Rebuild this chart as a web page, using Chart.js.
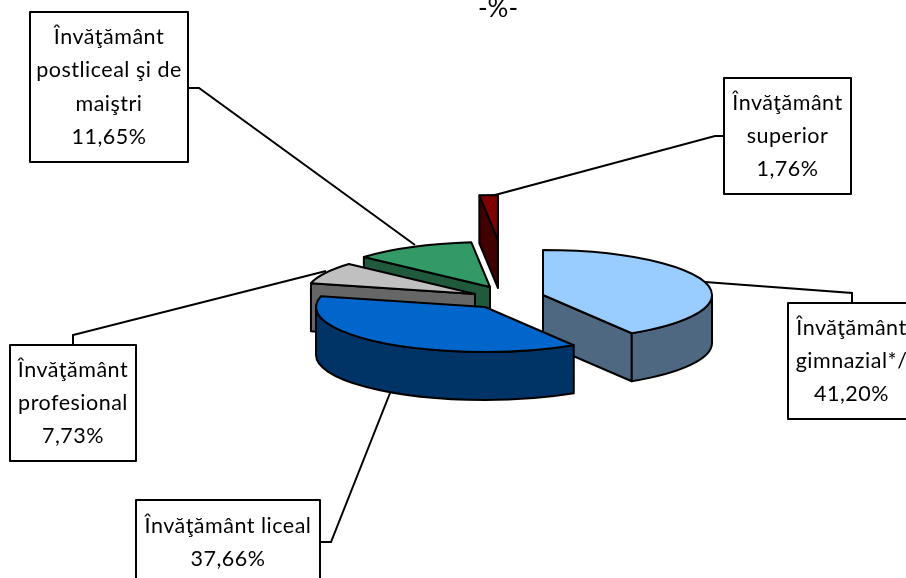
<!DOCTYPE html>
<html lang="ro">
<head>
    <meta charset="UTF-8">
    <title>Pie 3D</title>
    <script src="https://cdn.jsdelivr.net/npm/chart.js"></script>
    <style>
        html, body { margin: 0; padding: 0; background: white; overflow: hidden; }
        canvas { display: block; }
    </style>
</head>
<body>
    <canvas id="chart" width="906" height="578"></canvas>

    <script>
        const categories = [
            ["Învăţământ", "gimnazial*/"],
            ["Învăţământ liceal"],
            ["Învăţământ", "profesional"],
            ["Învăţământ", "postliceal şi de", "maiştri"],
            ["Învăţământ", "superior"]
        ];
        const shares = [41.20, 37.66, 7.73, 11.65, 1.76];
        const titleText = "-%-";

        const topColors = ["#99CCFF", "#0066CC", "#C0C0C0", "#339966", "#800000"];
        const sideColors = ["#4F6881", "#003366", "#666666", "#1F5A3D", "#400000"];

        // how far each slice is pulled out of the pie, in pixels
        const pullX = [43, -15, -25, -10, -2];
        const pullY = [-2, 10, -3, -10, -57];
        const drawOrder = [4, 3, 2, 0, 1];   // back to front
        const squash = 0.266;
        const depth = 48;

        // label boxes: left, top, right, bottom + leader line points
        const boxes = [
            { l: 788, t: 303, r: 915, b: 419, line: [[852, 303], [852, 293], [705, 282]] },
            { l: 136, t: 500, r: 320, b: 590, line: [[320, 542], [331, 542], [392, 388]] },
            { l: 10, t: 345, r: 136, b: 461, line: [[73, 345], [73, 335], [326, 271]] },
            { l: 30, t: 12, r: 188, b: 162, line: [[188, 88], [199, 88], [415, 245]] },
            { l: 724, t: 78, r: 851, b: 194, line: [[724, 136], [715, 136], [495, 195]] }
        ];

        function formatShare(v) {
            return v.toFixed(2).replace(".", ",") + "%";
        }

        function drawLeaders(ctx) {
            ctx.strokeStyle = "#000";
            ctx.lineWidth = 2;
            boxes.forEach(b => {
                ctx.beginPath();
                b.line.forEach((p, i) => i ? ctx.lineTo(p[0], p[1]) : ctx.moveTo(p[0], p[1]));
                ctx.stroke();
            });
        }

        function drawSlice(ctx, arc, i) {
            const cx = arc.x + pullX[i];
            const cy = arc.y + pullY[i];
            const r = arc.outerRadius;
            const s = arc.startAngle;
            const e = arc.endAngle;
            const px = a => cx + Math.cos(a) * r;
            const py = a => cy + Math.sin(a) * r * squash;

            ctx.lineWidth = 2;
            ctx.lineJoin = "round";
            ctx.strokeStyle = "#000";
            ctx.fillStyle = sideColors[i];

            // flat wall along the start edge, only when it faces us
            if (Math.cos(s) < 0) {
                ctx.beginPath();
                ctx.moveTo(cx, cy);
                ctx.lineTo(px(s), py(s));
                ctx.lineTo(px(s), py(s) + depth);
                ctx.lineTo(cx, cy + depth);
                ctx.closePath();
                ctx.fill();
                ctx.stroke();
            }
            // flat wall along the end edge
            if (Math.cos(e) > 0) {
                ctx.beginPath();
                ctx.moveTo(cx, cy);
                ctx.lineTo(px(e), py(e));
                ctx.lineTo(px(e), py(e) + depth);
                ctx.lineTo(cx, cy + depth);
                ctx.closePath();
                ctx.fill();
                ctx.stroke();
            }
            // rim, front part only
            const lo = Math.max(s, 0);
            const hi = Math.min(e, Math.PI);
            if (lo < hi) {
                ctx.beginPath();
                ctx.ellipse(cx, cy, r, r * squash, 0, lo, hi);
                ctx.lineTo(px(hi), py(hi) + depth);
                ctx.ellipse(cx, cy + depth, r, r * squash, 0, hi, lo, true);
                ctx.closePath();
                ctx.fill();
                ctx.stroke();
            }

            // top face: the library's own arc, squashed
            ctx.save();
            ctx.translate(cx, cy);
            ctx.scale(1, squash);
            ctx.translate(-arc.x, -arc.y);
            arc.draw(ctx);
            ctx.restore();

            ctx.beginPath();
            ctx.moveTo(cx, cy);
            ctx.ellipse(cx, cy, r, r * squash, 0, s, e);
            ctx.closePath();
            ctx.stroke();
        }

        function drawLabels(ctx) {
            ctx.textAlign = "center";
            ctx.textBaseline = "middle";
            ctx.font = "21.5px Lato";
            ctx.letterSpacing = "0.5px";
            boxes.forEach((b, i) => {
                ctx.fillStyle = "#fff";
                ctx.strokeStyle = "#000";
                ctx.lineWidth = 2;
                ctx.fillRect(b.l, b.t, b.r - b.l, b.b - b.t);
                ctx.strokeRect(b.l, b.t, b.r - b.l, b.b - b.t);
                const lines = categories[i].concat([formatShare(shares[i])]);
                const x = (b.l + b.r) / 2;
                const y0 = i === 1 ? 526 : (b.t + b.b) / 2 - (lines.length - 1) * 33.4 / 2;
                ctx.fillStyle = "#000";
                lines.forEach((t, k) => ctx.fillText(t, x, y0 + k * 33.4));
            });
            ctx.font = "26px Lato";
            ctx.letterSpacing = "0px";
            ctx.fillText(titleText, 498, 9);
        }

        const pie3d = {
            id: "pie3d",
            beforeDatasetDraw(chart, args) {
                const ctx = chart.ctx;
                const arcs = args.meta.data;
                ctx.save();
                drawLeaders(ctx);
                drawOrder.forEach(i => drawSlice(ctx, arcs[i], i));
                drawLabels(ctx);
                ctx.restore();
                return false;
            }
        };

        new Chart(document.getElementById("chart"), {
            type: "pie",
            data: {
                labels: categories.map(c => c.join(" ")),
                datasets: [{ data: shares, backgroundColor: topColors, borderWidth: 0 }]
            },
            options: {
                responsive: false,
                animation: false,
                layout: { padding: { left: 94, right: 0, top: 128, bottom: 112 } },
                plugins: { legend: { display: false }, tooltip: { enabled: false } }
            },
            plugins: [pie3d]
        });
    </script>
</body>
</html>
